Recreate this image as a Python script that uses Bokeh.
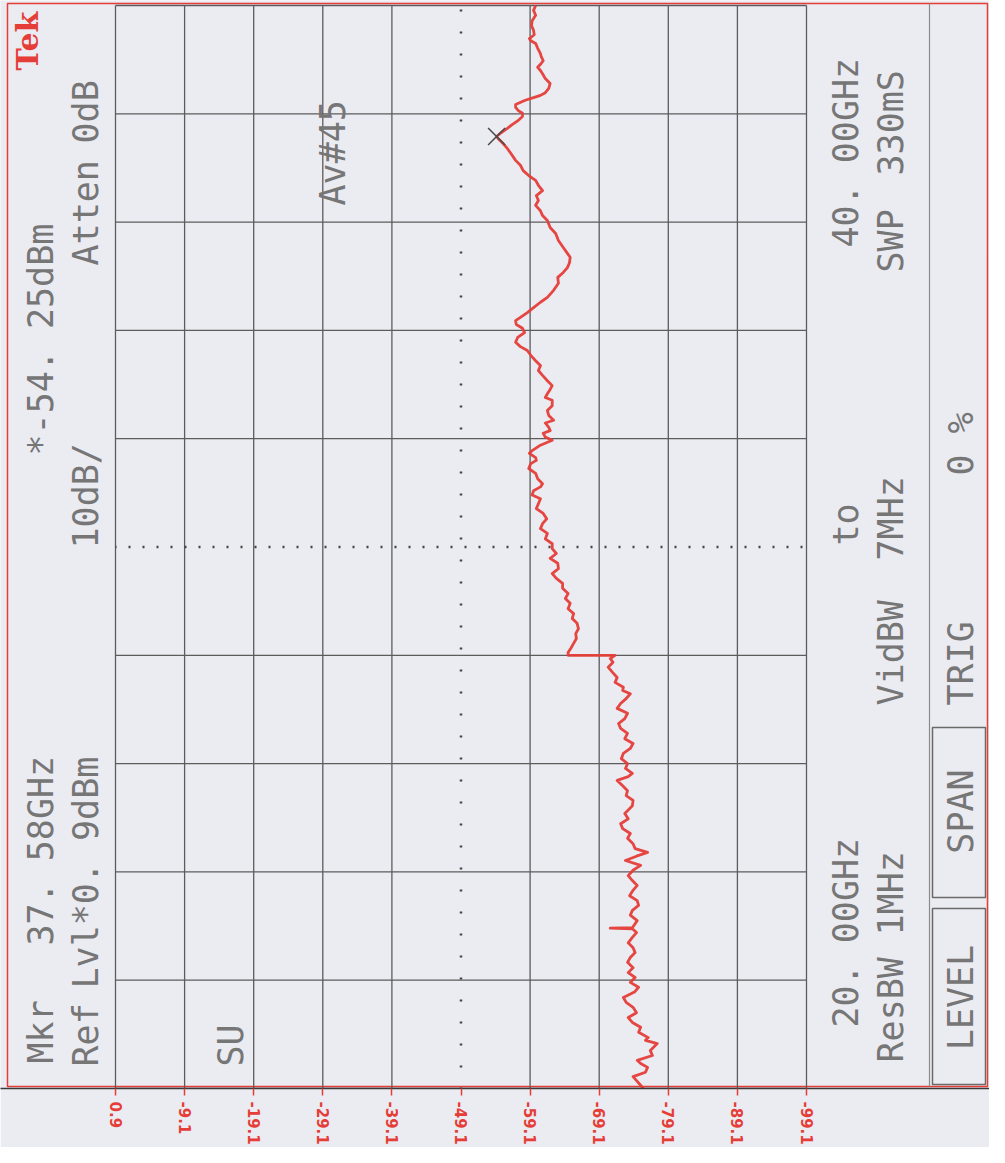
import math
from bokeh.plotting import figure
from bokeh.models import Range1d, FixedTicker, ColumnDataSource
from bokeh.core.properties import value
from bokeh.embed import file_html
from bokeh.resources import INLINE

# ---------------- data ----------------
freq_ghz = [
    20.00, 20.22, 20.30, 20.39, 20.46, 20.52, 20.61, 20.70, 20.83, 20.89,
    20.94, 21.04, 21.13, 21.22, 21.31, 21.40, 21.50, 21.59, 21.68, 21.78,
    21.87, 21.96, 22.05, 22.14, 22.23, 22.33, 22.42, 22.51, 22.60, 22.69,
    22.79, 22.88, 22.95, 22.96, 22.97, 23.10, 23.20, 23.29, 23.38, 23.47,
    23.56, 23.66, 23.75, 23.84, 23.93, 24.03, 24.12, 24.21, 24.29, 24.36,
    24.43, 24.52, 24.62, 24.71, 24.80, 24.89, 24.98, 25.08, 25.13, 25.22,
    25.32, 25.41, 25.50, 25.59, 25.69, 25.76, 25.82, 25.91, 26.00, 26.09,
    26.19, 26.28, 26.37, 26.46, 26.56, 26.65, 26.74, 26.83, 26.93, 27.02,
    27.11, 27.20, 27.29, 27.35, 27.41, 27.50, 27.59, 27.69, 27.78, 27.87,
    27.94, 28.00, 28.00, 28.05, 28.13, 28.22, 28.31, 28.40, 28.49, 28.59,
    28.68, 28.77, 28.86, 28.96, 29.05, 29.14, 29.24, 29.33, 29.42, 29.51,
    29.60, 29.70, 29.79, 29.88, 29.97, 30.06, 30.15, 30.25, 30.34, 30.43,
    30.52, 30.62, 30.71, 30.80, 30.89, 30.96, 31.04, 31.11, 31.17, 31.26,
    31.36, 31.45, 31.54, 31.60, 31.65, 31.73, 31.78, 31.88, 31.97, 32.03,
    32.10, 32.15, 32.21, 32.29, 32.34, 32.43, 32.52, 32.61, 32.71, 32.76,
    32.83, 32.91, 32.98, 33.07, 33.17, 33.26, 33.35, 33.44, 33.54, 33.63,
    33.70, 33.78, 33.87, 33.96, 34.04, 34.11, 34.18, 34.24, 34.33, 34.42,
    34.52, 34.61, 34.74, 34.87, 34.98, 35.07, 35.16, 35.25, 35.35, 35.44,
    35.53, 35.66, 35.79, 35.90, 36.03, 36.12, 36.21, 36.31, 36.40, 36.49,
    36.58, 36.68, 36.77, 36.86, 36.95, 37.05, 37.14, 37.27, 37.36, 37.45,
    37.54, 37.58, 37.65, 37.73, 37.80, 37.88, 37.95, 38.01, 38.06, 38.12,
    38.17, 38.25, 38.30, 38.34, 38.39, 38.47, 38.56, 38.65, 38.74, 38.80,
    38.86, 38.93, 38.98, 39.06, 39.11, 39.21, 39.30, 39.35, 39.39, 39.46,
    39.54, 39.63, 39.72, 39.82, 39.91, 40.00,
]
level_dbm = [
    -75.5, -74.0, -75.8, -76.1, -75.1, -74.6, -76.8, -76.5, -77.5, -75.8,
    -76.2, -74.8, -75.1, -73.9, -73.3, -74.5, -74.0, -73.0, -72.6, -74.2,
    -74.8, -73.6, -74.3, -73.3, -74.0, -73.2, -73.6, -74.3, -74.0, -73.3,
    -73.9, -74.5, -73.9, -70.7, -73.9, -74.6, -73.6, -73.9, -74.8, -74.6,
    -73.5, -74.0, -74.6, -73.9, -73.3, -74.0, -75.1, -72.9, -74.5, -76.1,
    -74.3, -74.0, -73.2, -73.6, -72.5, -72.2, -73.3, -72.8, -73.2, -73.9,
    -74.0, -73.0, -73.2, -72.5, -71.7, -73.3, -73.9, -72.9, -73.2, -72.3,
    -72.6, -73.6, -74.0, -72.8, -73.2, -72.2, -71.9, -72.8, -73.2, -71.7,
    -72.2, -73.0, -73.6, -72.5, -72.6, -71.4, -71.7, -71.0, -70.4, -71.1,
    -70.7, -71.4, -64.6, -64.6, -65.0, -65.4, -65.8, -65.7, -66.1, -65.9,
    -65.2, -65.4, -64.6, -64.9, -64.2, -64.6, -63.8, -63.8, -62.9, -62.3,
    -63.2, -63.1, -62.0, -62.9, -62.3, -62.3, -61.3, -61.6, -60.6, -60.9,
    -61.5, -61.0, -60.0, -60.3, -60.6, -59.4, -59.6, -60.6, -60.9, -60.2,
    -59.9, -58.9, -59.2, -60.0, -59.9, -59.0, -59.4, -60.6, -62.3, -61.3,
    -61.0, -62.0, -61.8, -61.3, -62.5, -61.8, -61.6, -62.3, -62.3, -61.3,
    -61.6, -62.0, -62.3, -61.6, -60.9, -60.3, -60.6, -59.9, -59.2, -58.7,
    -57.7, -57.0, -57.3, -58.3, -58.0, -57.1, -57.0, -57.7, -58.7, -59.6,
    -60.6, -61.6, -62.5, -63.2, -63.1, -63.9, -64.5, -64.8, -64.9, -64.4,
    -63.9, -63.2, -62.8, -62.0, -61.6, -60.9, -60.6, -59.9, -60.3, -60.0,
    -60.9, -60.3, -59.9, -58.9, -58.1, -57.7, -57.0, -56.3, -55.8, -55.2,
    -54.5, -54.25, -54.9, -55.8, -56.5, -57.4, -58.0, -58.0, -57.4, -57.0,
    -57.0, -58.4, -59.6, -60.6, -61.3, -61.8, -62.0, -61.3, -60.9, -60.6,
    -60.2, -60.7, -61.0, -60.7, -60.6, -60.2, -59.9, -59.2, -59.0, -59.7,
    -59.6, -59.3, -59.4, -59.9, -59.6, -59.9,
]
marker_freq = [37.58]
marker_level = [-54.25]

level_ticks = [0.9, -9.1, -19.1, -29.1, -39.1, -49.1, -59.1, -69.1, -79.1, -89.1, -99.1]
level_tick_labels = ["0.9", "-9.1", "-19.1", "-29.1", "-39.1", "-49.1",
                     "-59.1", "-69.1", "-79.1", "-89.1", "-99.1"]
freq_ticks = [20, 22, 24, 26, 28, 30, 32, 34, 36, 38, 40]
center_level = -49.1
center_freq = 30

# annotation texts of the instrument printout
text_items = [
    # (text, column x px, start y px, align)
    ("Mkr", 40, 1063, "left"),
    ("37. 58GHz", 40, 945, "left"),
    ("*-54. 25dBm", 40, 455, "left"),
    ("Ref", 85, 1066, "left"),
    ("Lvl*0. 9dBm", 85, 988, "left"),
    ("10dB/", 85, 548, "left"),
    ("Atten", 85, 265, "left"),
    ("0dB", 85, 143, "left"),
    ("SU", 230, 1066, "left"),
    ("Av#45", 332, 205, "left"),
    ("20. 00GHz", 845, 1027, "left"),
    ("to", 845, 545, "left"),
    ("40. 00GHz", 845, 247, "left"),
    ("ResBW", 890, 1062, "left"),
    ("1MHz", 890, 935, "left"),
    ("VidBW", 890, 705, "left"),
    ("7MHz", 890, 560, "left"),
    ("SWP", 890, 272, "left"),
    ("330mS", 890, 175, "left"),
    ("TRIG", 960, 705, "left"),
    ("0  %", 960, 475, "left"),
    ("SPAN", 960, 811, "center"),
    ("LEVEL", 960, 997, "center"),
]

# ---------------- layout constants ----------------
W, H = 989, 1147
GRAT_L, GRAT_R = 115, 806      # graticule left/right (px)
GRAT_T, GRAT_B = 5, 1088       # graticule top/bottom (px)
FRAME_B = 1088
LVL_TOP, LVL_BOT = level_ticks[0], level_ticks[-1]
F_LO, F_HI = freq_ticks[0], freq_ticks[-1]

db_per_px = (LVL_TOP - LVL_BOT) / (GRAT_R - GRAT_L)
ghz_per_px = (F_HI - F_LO) / (GRAT_B - GRAT_T)
x_start = LVL_TOP + GRAT_L * db_per_px
x_end = LVL_TOP - (W - GRAT_L) * db_per_px
y_start = F_LO - (FRAME_B - GRAT_B) * ghz_per_px
y_end = F_HI + GRAT_T * ghz_per_px

BG = "#ebebf2"
GRID = "#5c5c5c"
RED = "#e53d37"
TXT = "#767676"

p = figure(width=W, height=H, output_backend="svg", toolbar_location=None,
           x_range=Range1d(x_start, x_end), y_range=Range1d(y_start, y_end),
           x_axis_location="below", y_axis_location=None,
           min_border_left=0, min_border_right=0, min_border_top=0,
           min_border_bottom=H - FRAME_B)
p.extra_x_ranges = {"px": Range1d(0, W)}
p.extra_y_ranges = {"px": Range1d(FRAME_B, 0)}
p.background_fill_color = BG
p.border_fill_color = BG
p.outline_line_color = None
p.xgrid.visible = False
p.ygrid.visible = False

# axis with the amplitude scale
ax = p.xaxis[0]
ax.ticker = FixedTicker(ticks=level_ticks)
ax.major_label_overrides = {t: s for t, s in zip(level_ticks, level_tick_labels)}
ax.major_label_orientation = "vertical"
ax.major_label_text_color = RED
ax.major_label_text_font = "DejaVu Sans"
ax.major_label_text_font_style = "bold"
ax.major_label_text_font_size = "15px"
ax.major_label_standoff = 6
ax.major_tick_line_color = RED
ax.major_tick_line_width = 1.5
ax.major_tick_out = 7
ax.major_tick_in = 0
ax.minor_tick_line_color = None
ax.axis_line_color = "#3a3a3a"
ax.axis_line_width = 1.5

# red outer border of the printout (layout px)
p.quad(left=[7], right=[987], top=[3], bottom=[1086], x_range_name="px", y_range_name="px",
       fill_color=None, line_color=RED, line_width=1.5)
# separator line of the soft-key column
p.segment(x0=[929], x1=[929], y0=[3], y1=[1086], x_range_name="px", y_range_name="px",
          line_color="#8a8a8a", line_width=1.2)
# soft-key boxes
p.quad(left=[932, 932], right=[985, 985], top=[727, 908], bottom=[897, 1084],
       x_range_name="px", y_range_name="px", fill_color=None, line_color="#6a6a6a", line_width=1.5)

# graticule
solid_lv = [t for t in level_ticks if t != center_level]
p.segment(x0=solid_lv, x1=solid_lv, y0=[F_LO] * len(solid_lv), y1=[F_HI] * len(solid_lv),
          line_color=GRID, line_width=1.3)
solid_fq = [f for f in freq_ticks if f != center_freq]
p.segment(x0=[LVL_TOP] * len(solid_fq), x1=[LVL_BOT] * len(solid_fq), y0=solid_fq, y1=solid_fq,
          line_color=GRID, line_width=1.3)
p.segment(x0=[center_level], x1=[center_level], y0=[F_LO], y1=[F_HI],
          line_color="#444444", line_width=2.5, line_dash="2 20", line_dash_offset=1)
p.segment(x0=[LVL_TOP], x1=[LVL_BOT], y0=[center_freq], y1=[center_freq],
          line_color="#444444", line_width=2.5, line_dash="2 12", line_dash_offset=1)

# trace: amplitude on the horizontal, frequency on the vertical (rotated printout)
p.line(x=level_dbm, y=freq_ghz, line_color=RED, line_width=2.8, line_alpha=0.95,
       line_join="round")
p.scatter(x=marker_level, y=marker_freq, marker="x", size=24, line_color="#4a4a4a", line_width=1.6)

# texts (rotated, reading bottom to top)
for align in ("left", "center"):
    items = [t for t in text_items if t[3] == align]
    src = ColumnDataSource(dict(text=[t[0] for t in items], x=[t[1] for t in items],
                                y=[t[2] for t in items]))
    p.text(x="x", y="y", text="text", source=src, x_range_name="px", y_range_name="px",
           angle=math.pi / 2, text_align=align, text_baseline="middle",
           text_font=value("DejaVu Sans Mono"), text_font_size="35px", text_color=TXT)

p.text(x=[27], y=[70], text=["Tek"], x_range_name="px", y_range_name="px",
       angle=math.pi / 2, text_align="left", text_baseline="middle",
       text_font=value("DejaVu Serif"), text_font_style="bold", text_font_size="30px",
       text_color=RED)

open("out.html", "w").write(file_html(p, INLINE))
